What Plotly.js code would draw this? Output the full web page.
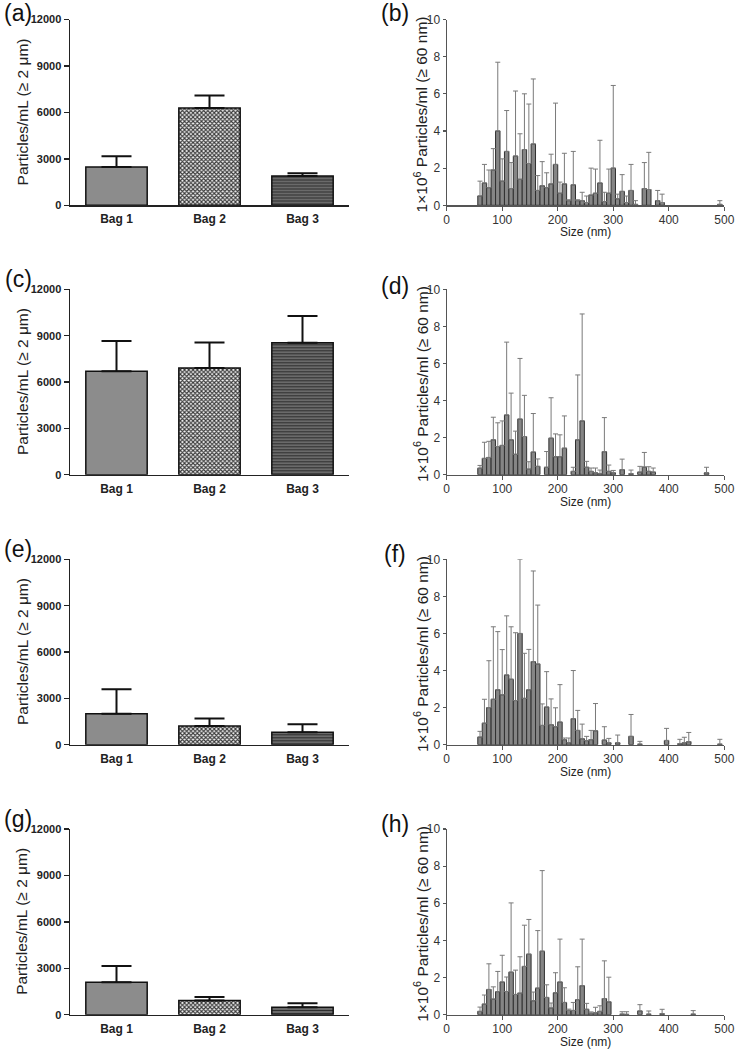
<!DOCTYPE html>
<html><head><meta charset="utf-8">
<script src="https://cdn.plot.ly/plotly-3.0.1.min.js"></script>
<style>html,body{margin:0;padding:0;background:#fff}#chart{width:735px;height:1050px}</style>
</head><body><div id="chart"></div>
<script>
// ---------- Data: left panels (Particles/mL >= 2 um) ----------
const bags = ["Bag 1", "Bag 2", "Bag 3"];
const meanA = [2480, 6290, 1900];
const topA  = [3170, 7090, 2070];
const meanC = [6700, 6900, 8540];
const topC  = [8650, 8560, 10270];
const meanE = [2010, 1210, 800];
const topE  = [3590, 1690, 1320];
const meanG = [2090, 910, 475];
const topG  = [3150, 1140, 735];
const leftTicks = [0, 3000, 6000, 9000, 12000];

// ---------- Data: right panels (size distributions) ----------
const sizeNm = [60,68,76,84,92,100,108,116,124,132,140,148,156,164,172,180,188,196,204,212,
  220,228,236,244,252,260,268,276,284,292,300,308,316,324,332,340,348,356,364,372,
  380,388,396,404,412,420,428,436,444,452,460,468,476,484,492];
const rightXTicks = [0, 100, 200, 300, 400, 500];
const rightYTicks = [0, 2, 4, 6, 8, 10];

const concB = [0.5,1.2,0.95,1.9,4.0,1.3,2.9,0.9,2.65,1.4,3.0,2.25,3.3,0.8,1.05,0.95,1.15,2.2,0.65,1.15,
  0.25,1.1,0.25,0.25,0.15,0.55,0.65,1.2,0.2,0.65,2.0,0.35,0.75,0.15,0.8,0.05,0,0.9,0.85,0,
  0.25,0.15,0,0,0,0,0,0,0,0,0,0,0,0,0.05];
const errTopB = [1.3,2.2,1.9,3.05,7.7,2.5,5.1,2.3,6.15,3.85,6.0,5.45,6.8,1.6,2.35,1.75,2.75,5.5,1.25,2.8,
  0.3,2.9,0.3,0.7,0.5,2.0,1.95,3.5,0.7,1.95,6.45,0.6,1.65,0.5,2.2,0.25,0,2.3,2.85,0,
  0.8,0.6,0,0,0,0,0,0,0,0,0,0,0,0,0.25];

const concD = [0.35,0.88,0.93,1.88,1.52,1.58,3.22,1.88,1.1,3.0,2.06,0.3,1.22,0.45,0,0.4,1.97,0.97,0.97,1.43,
  0,0.18,1.88,2.9,0.4,0.18,0.1,0.05,1.24,0.18,0.1,0,0.27,0,0.05,0,0.14,0.41,0.18,0.14,
  0,0,0,0,0,0,0,0,0,0,0,0.1,0,0,0];
const errTopD = [0.5,1.75,1.8,3.1,2.8,2.9,7.15,4.4,2.35,6.27,4.28,0.7,3.3,0.85,0,1.25,4.15,2.2,2.15,3.17,
  0,0.4,5.38,8.67,0.72,0.36,0.36,0.25,3.08,0.52,0.23,0,0.84,0,0.25,0,0.45,1.2,0.43,0.36,
  0,0,0,0,0,0,0,0,0,0,0,0.4,0,0,0];

const concF = [0.41,1.16,2.0,2.45,2.96,2.69,3.76,3.53,2.38,6.0,2.5,2.96,4.48,4.35,1.04,2.03,1.08,0.97,1.22,0.27,
  0.1,1.4,0.77,0.32,0.22,0.27,0.75,0,0.25,0.1,0,0.1,0,0,0.45,0,0.03,0,0,0,
  0,0,0.23,0,0,0.05,0.1,0.16,0,0,0,0,0,0,0.03];
const errTopF = [0.72,2.45,4.53,6.36,6.1,5.13,6.95,6.36,6.04,10.0,4.93,5.14,9.37,7.53,2.2,3.94,2.47,1.99,3.24,0.36,
  0.36,4.0,1.85,1.11,0.45,0.77,2.22,0,0.97,0.34,0,0.52,0,0,1.63,0,0.18,0,0,0,
  0,0,0.88,0,0,0.29,0.4,0.66,0,0,0,0,0,0,0.29];

const concH = [0.18,0.57,1.36,0.84,1.24,1.76,1.25,2.29,1.09,1.16,2.6,3.26,0.75,1.43,3.42,0.93,0.36,1.18,1.76,0.66,
  0.23,0.23,0.81,1.56,0.29,0.08,0.1,0.18,0.87,0.69,0,0,0.03,0.02,0,0,0.2,0,0.03,0,
  0,0.05,0,0,0,0,0,0,0.03,0,0,0,0,0,0];
const errTopH = [0.41,1.06,2.74,1.5,2.33,3.2,2.03,6.02,2.4,3.12,4.82,5.13,1.22,4.53,7.76,1.61,0.63,2.26,4.07,1.45,
  0.3,0.66,2.58,4.07,0.61,0.15,0.4,0.48,2.9,2.02,0,0,0.16,0.16,0,0,0.54,0,0.2,0,
  0,0.29,0,0,0,0,0,0,0.22,0,0,0,0,0,0];

const panelLabels = ["(a)","(b)","(c)","(d)","(e)","(f)","(g)","(h)"];
const leftTitle = "Particles/mL (\u2265 2 \u03bcm)";
const rightTitle = "1\u00d710<sup>6</sup> Particles/ml (\u2265 60 nm)";
const rightXTitle = "Size (nm)";

// ---------- Layout geometry ----------
const W = 735, H = 1050;
const FONT = "Liberation Sans, Arial, sans-serif";
const fx = x => x / W;
const fy = y => 1 - y / H;
const rowTop = [19.5, 289.3, 559.3, 829];
const rowBot = [205.3, 474.7, 744.7, 1014.7];
const leftX = [70, 349];
const rightX = [446.7, 724.3];
const leftLabelY = [13, 279, 549, 819];
const rightLabelY = [13, 286, 554, 824];

const leftData = [[meanA, topA], [meanC, topC], [meanE, topE], [meanG, topG]];
const rightData = [[concB, errTopB], [concD, errTopD], [concF, errTopF], [concH, errTopH]];

const bagStyles = [
  {color: "#8c8c8c"},
  {color: "#a0a0a0", pattern: {shape: "x", fgcolor: "#3a3a3a", bgcolor: "#f4f4f4", size: 3, solidity: 0.6, fillmode: "replace"}},
  {color: "#5a5a5a", pattern: {shape: "-", fgcolor: "#2e2e2e", bgcolor: "#6a6a6a", size: 3, solidity: 0.35, fillmode: "replace"}}
];

const traces = [];
const layout = {
  width: W, height: H,
  margin: {l: 0, r: 0, t: 0, b: 0},
  paper_bgcolor: "#fff", plot_bgcolor: "rgba(0,0,0,0)",
  showlegend: false, barmode: "overlay", hovermode: false,
  font: {family: FONT, color: "#111"},
  annotations: []
};

for (let r = 0; r < 4; r++) {
  const li = 2 * r + 1, ri = 2 * r + 2;
  const yDom = [fy(rowBot[r]), fy(rowTop[r])];
  // left bar chart
  const [means, tops] = leftData[r];
  for (let b = 0; b < 3; b++) {
    const st = bagStyles[b];
    const marker = {color: st.color, line: {color: "#111", width: 1.5}};
    if (st.pattern) marker.pattern = st.pattern;
    traces.push({
      type: "bar", x: [bags[b]], y: [means[b]], width: 0.66,
      xaxis: "x" + li, yaxis: "y" + li, marker: marker,
      error_y: {type: "data", symmetric: false, array: [tops[b] - means[b]], arrayminus: [0],
                color: "#111", thickness: 2, width: 15}
    });
  }
  layout["xaxis" + li] = {
    domain: [fx(leftX[0]), fx(leftX[1])], anchor: "y" + li,
    type: "category", range: [-0.5, 2.5], categoryorder: "array", categoryarray: bags,
    showline: true, linecolor: "#222", linewidth: 1.5, ticks: "", showgrid: false, zeroline: false,
    tickfont: {family: FONT, size: 12, weight: "bold", color: "#222"}, ticklabelstandoff: 2, fixedrange: true
  };
  layout["yaxis" + li] = {
    domain: yDom, anchor: "x" + li, range: [0, 12000],
    tickvals: leftTicks, ticktext: leftTicks.map(String),
    ticks: "outside", ticklen: 5, tickwidth: 1.5, tickcolor: "#222",
    showline: true, linecolor: "#222", linewidth: 1.5, showgrid: false, zeroline: false,
    tickfont: {family: FONT, size: 11, weight: "bold", color: "#222"}, fixedrange: true
  };
  // right histogram
  const [vals, etops] = rightData[r];
  const yv = vals.map((v, i) => (v === 0 && etops[i] === 0) ? null : v);
  const ep = vals.map((v, i) => Math.max(0, etops[i] - v));
  traces.push({
    type: "bar", x: sizeNm, y: yv, width: 8,
    xaxis: "x" + ri, yaxis: "y" + ri,
    marker: {color: "#858585", line: {color: "#303030", width: 1}},
    error_y: {type: "data", symmetric: false, array: ep, arrayminus: vals.map(() => 0),
              color: "#7a7a7a", thickness: 1, width: 2.5}
  });
  layout["xaxis" + ri] = {
    domain: [fx(rightX[0]), fx(rightX[1])], anchor: "y" + ri, range: [0, 500],
    tickvals: rightXTicks, ticktext: rightXTicks.map(String),
    ticks: "outside", ticklen: 4, tickcolor: "#555", tickwidth: 1.2,
    showline: true, linecolor: "#555", linewidth: 1.2, showgrid: false, zeroline: false,
    tickfont: {family: FONT, size: 12, color: "#333"}, ticklabelstandoff: -1, fixedrange: true
  };
  layout["yaxis" + ri] = {
    domain: yDom, anchor: "x" + ri, range: [0, 10],
    tickvals: rightYTicks, ticktext: rightYTicks.map(String),
    ticks: "outside", ticklen: 3, tickcolor: "#555", tickwidth: 1.2,
    showline: true, linecolor: "#555", linewidth: 1.2, showgrid: false, zeroline: false,
    tickfont: {family: FONT, size: 12, color: "#333"}, fixedrange: true
  };
  const midY = (rowTop[r] + rowBot[r]) / 2;
  layout.annotations.push(
    {xref: "paper", yref: "paper", x: fx(18), y: fy(leftLabelY[r]), text: panelLabels[2 * r],
     showarrow: false, xanchor: "center", yanchor: "middle", font: {family: FONT, size: 23, color: "#111"}},
    {xref: "paper", yref: "paper", x: fx(395), y: fy(rightLabelY[r]), text: panelLabels[2 * r + 1],
     showarrow: false, xanchor: "center", yanchor: "middle", font: {family: FONT, size: 23, color: "#111"}},
    {xref: "paper", yref: "paper", x: fx(22), y: fy(midY), text: leftTitle, textangle: -90,
     showarrow: false, xanchor: "center", yanchor: "middle", font: {family: FONT, size: 15.5, color: "#222"}},
    {xref: "paper", yref: "paper", x: fx(421), y: fy(midY + 2), text: rightTitle, textangle: -90,
     showarrow: false, xanchor: "center", yanchor: "middle", font: {family: FONT, size: 15.5, color: "#222"}},
    {xref: "paper", yref: "paper", x: fx((rightX[0] + rightX[1]) / 2), y: fy(rowBot[r] + 27), text: rightXTitle,
     showarrow: false, xanchor: "center", yanchor: "middle", font: {family: FONT, size: 12, color: "#222"}}
  );
}

Plotly.newPlot("chart", traces, layout, {staticPlot: true, displayModeBar: false});
</script>
</body></html>
